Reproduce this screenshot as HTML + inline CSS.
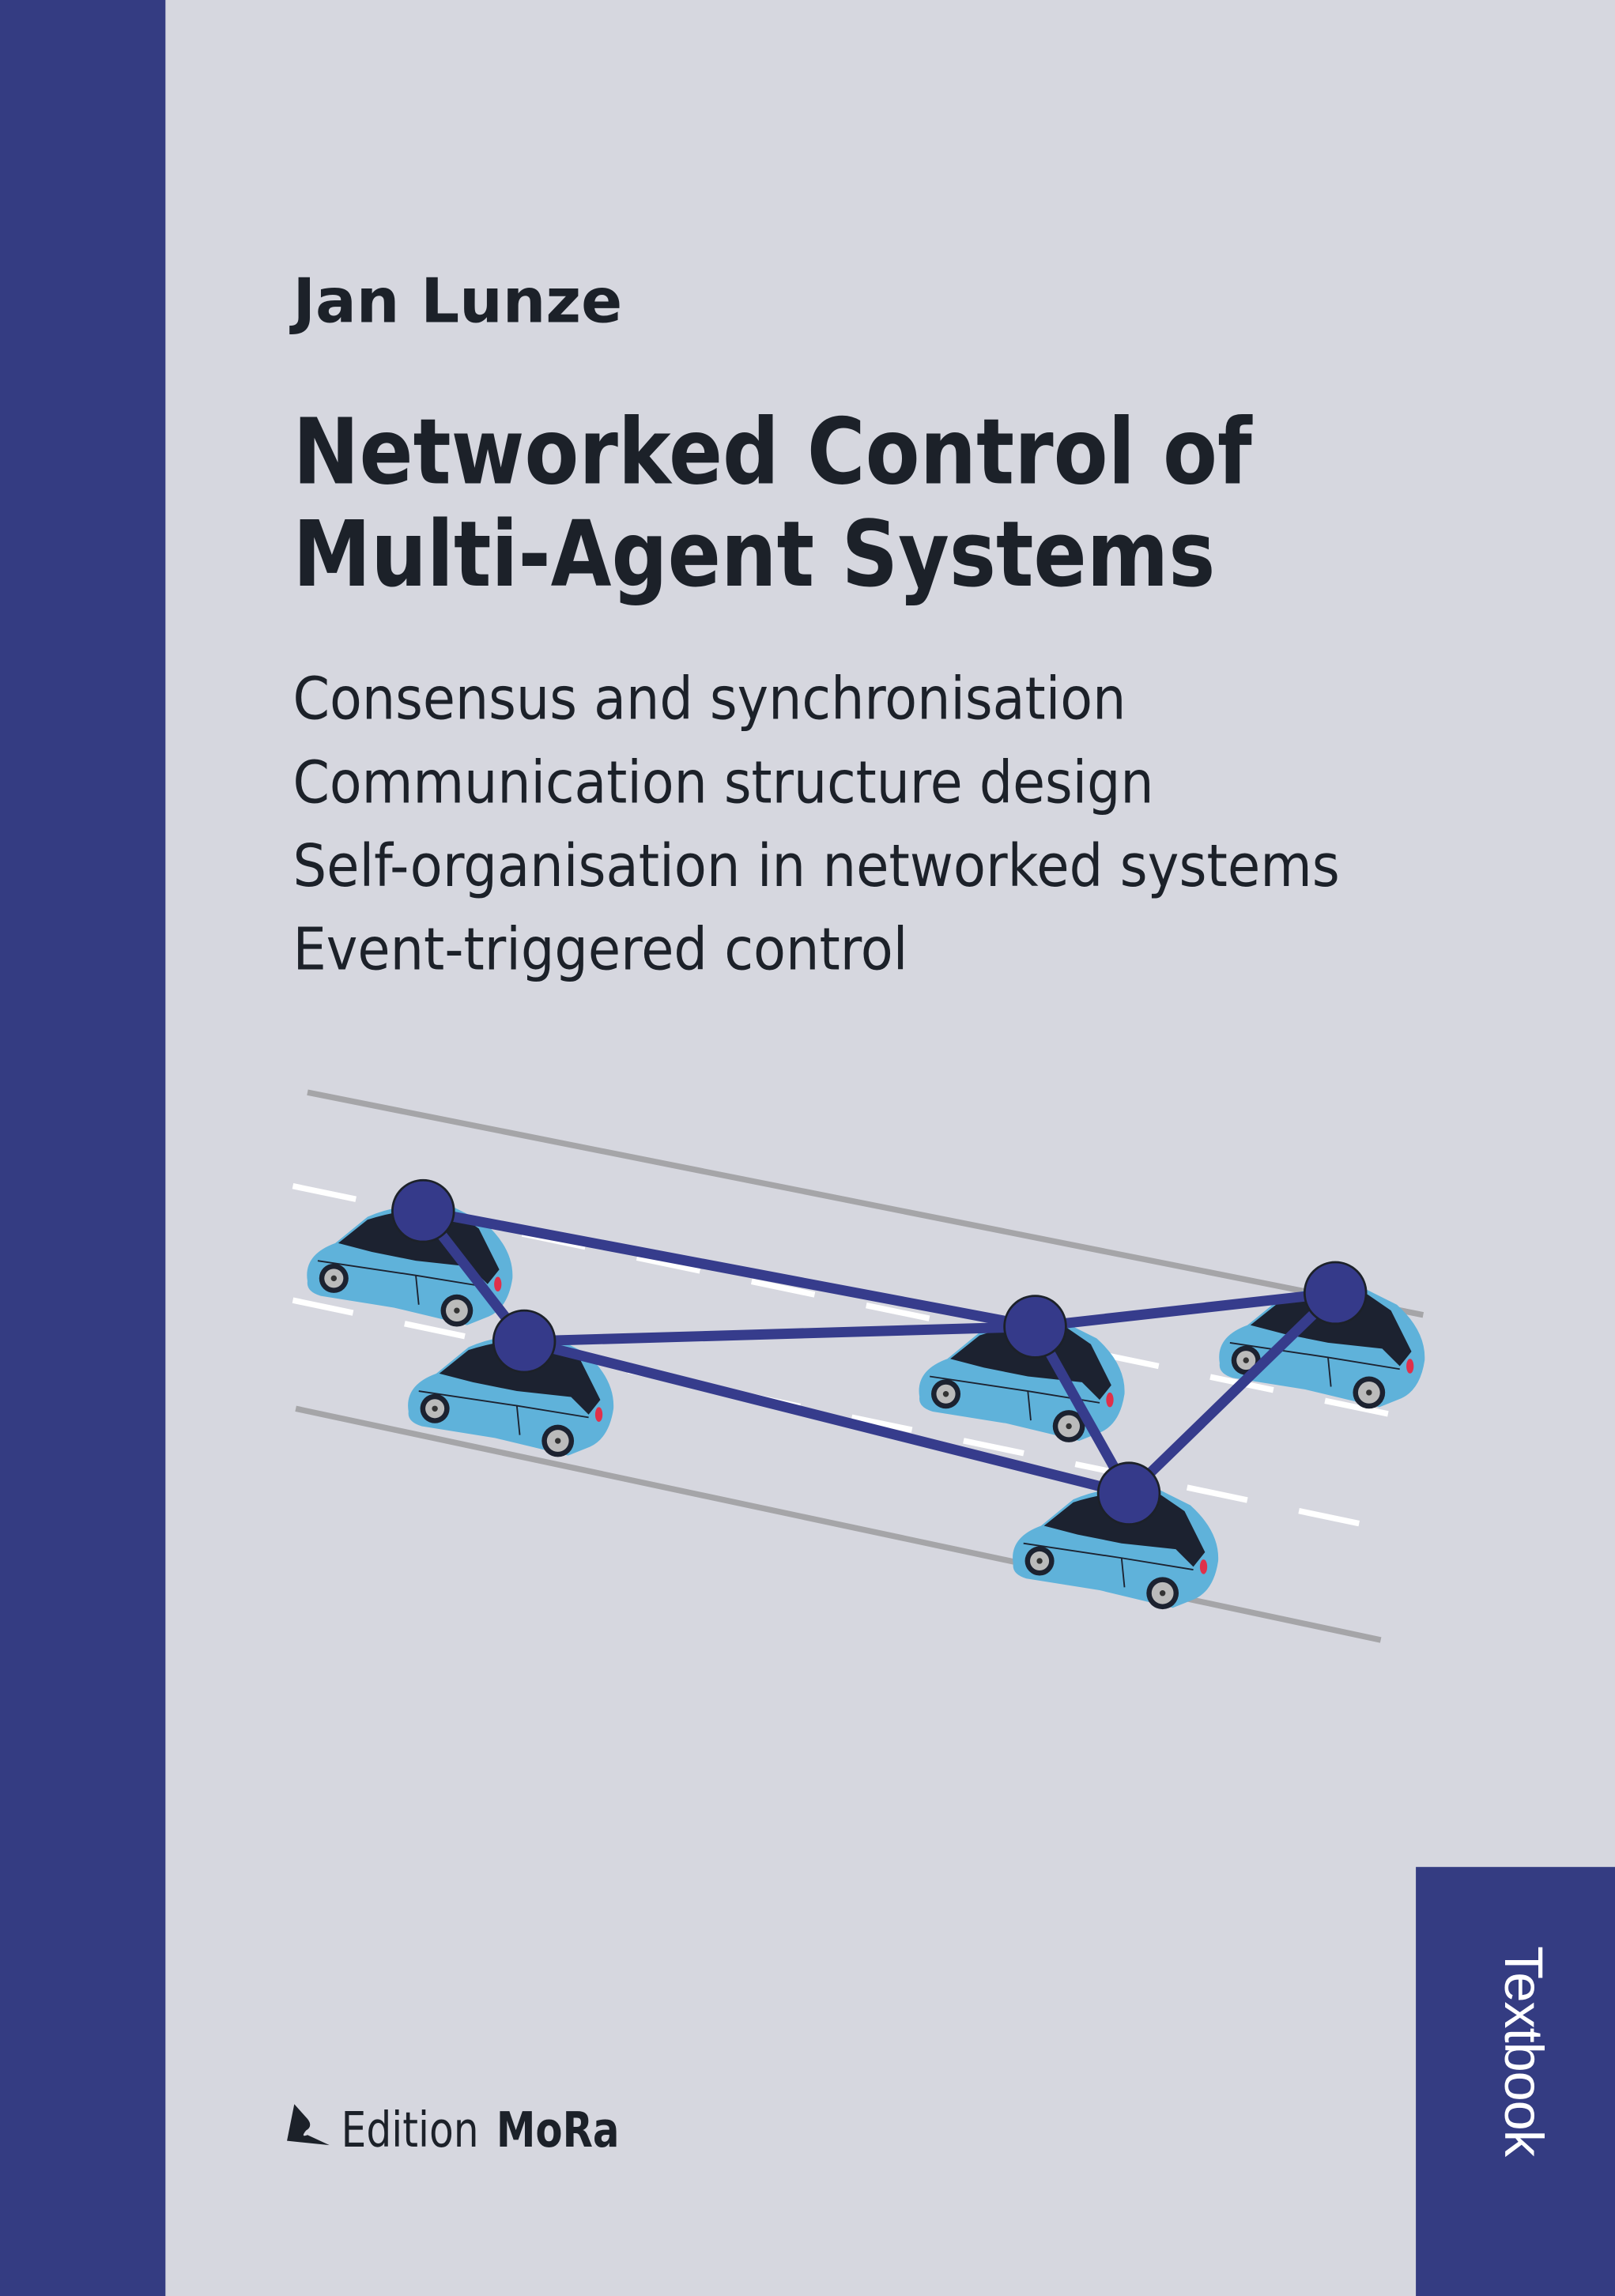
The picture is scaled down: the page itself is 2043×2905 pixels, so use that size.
<!DOCTYPE html>
<html><head><meta charset="utf-8"><style>
html,body{margin:0;padding:0;background:#d6d7df}
svg{display:block}
</style></head><body>
<svg width="2043" height="2905" viewBox="0 0 1103 1568" preserveAspectRatio="none" xmlns="http://www.w3.org/2000/svg">
<defs>
<g id="car">
<path d="M-79,48 Q-82,30 -60,22 L-38,4 Q-10,-8 22,-2 L42,8 Q62,26 61,46 Q58,66 45,72 L30,78 L-20,66 L-70,58 Q-80,55 -79,48Z" fill="#5fb2da"/>
<path d="M-58,22 L-38,6 Q-8,-4 22,1 L38,12 L52,40 L44,50 L32,38 L-5,34 L-35,28 Z" fill="#1c2230"/>
<path d="M-72,34 L-5,44 L44,52" stroke="#1c2230" stroke-width="1" fill="none"/>
<path d="M-5,44 L-3,64" stroke="#1c2230" stroke-width="1" fill="none"/>
<circle cx="-61" cy="46" r="10" fill="#1c2230"/><circle cx="-61" cy="46" r="6.5" fill="#bbb"/><circle cx="-61" cy="46" r="2" fill="#333"/>
<circle cx="23" cy="68" r="11" fill="#1c2230"/><circle cx="23" cy="68" r="7.5" fill="#bbb"/><circle cx="23" cy="68" r="2" fill="#333"/>
<ellipse cx="51" cy="50" rx="2.5" ry="5" fill="#e0304a"/>
</g>
</defs>
<rect width="1103" height="1568" fill="#d6d7df"/>
<rect width="113" height="1568" fill="#343c82"/>
<rect x="967" y="1275" width="136" height="293" fill="#343c82"/>
<text transform="translate(1028,1329) rotate(90)" font-family="Liberation Sans, sans-serif" font-size="37" fill="#fff" textLength="144">Textbook</text>

<g font-family="DejaVu Sans, Liberation Sans, sans-serif" fill="#1c2129">
<text x="200" y="220" font-size="42" font-weight="bold" textLength="225" lengthAdjust="spacingAndGlyphs">Jan Lunze</text>
<text x="200" y="330" font-size="62" font-weight="bold" textLength="655" lengthAdjust="spacingAndGlyphs">Networked Control of</text>
<text x="200" y="400" font-size="62" font-weight="bold" textLength="630" lengthAdjust="spacingAndGlyphs">Multi-Agent Systems</text>
<g font-size="40">
<text x="200" y="491" textLength="569" lengthAdjust="spacingAndGlyphs">Consensus and synchronisation</text>
<text x="200" y="548" textLength="588" lengthAdjust="spacingAndGlyphs">Communication structure design</text>
<text x="200" y="605" textLength="715" lengthAdjust="spacingAndGlyphs">Self-organisation in networked systems</text>
<text x="200" y="662" textLength="420" lengthAdjust="spacingAndGlyphs">Event-triggered control</text>
</g>
<text x="233" y="1466" font-size="33" textLength="94" lengthAdjust="spacingAndGlyphs">Edition</text>
<text x="339" y="1466" font-size="33" font-weight="bold" textLength="84" lengthAdjust="spacingAndGlyphs">MoRa</text>
</g>
<path d="M201,1437 L210,1447 Q214,1452 209,1455 Q205,1460 210,1458 L225,1465 L196,1462 Z" fill="#1c2129"/>

<line x1="210" y1="746" x2="972" y2="898" stroke="#a5a5a8" stroke-width="4"/>
<line x1="202" y1="962" x2="943" y2="1120" stroke="#a5a5a8" stroke-width="4"/>
<line x1="200" y1="810" x2="950" y2="966" stroke="#fff" stroke-width="4" stroke-dasharray="44,36"/>
<line x1="200" y1="888" x2="950" y2="1045" stroke="#fff" stroke-width="4" stroke-dasharray="42,36"/>

<use href="#car" x="289" y="827"/>
<use href="#car" x="358" y="916"/>
<use href="#car" x="707" y="906"/>
<use href="#car" x="912" y="883"/>
<use href="#car" x="771" y="1020"/>

<g stroke="#363c8c" stroke-width="7">
<line x1="289" y1="827" x2="707" y2="906"/>
<line x1="289" y1="827" x2="358" y2="916"/>
<line x1="358" y1="916" x2="707" y2="906"/>
<line x1="358" y1="916" x2="771" y2="1020"/>
<line x1="707" y1="906" x2="912" y2="883"/>
<line x1="707" y1="906" x2="771" y2="1020"/>
<line x1="771" y1="1020" x2="912" y2="883"/>
</g>
<g fill="#353a8a" stroke="#1c2129" stroke-width="1.5">
<circle cx="289" cy="827" r="21"/>
<circle cx="358" cy="916" r="21"/>
<circle cx="707" cy="906" r="21"/>
<circle cx="912" cy="883" r="21"/>
<circle cx="771" cy="1020" r="21"/>
</g>
</svg>
</body></html>
